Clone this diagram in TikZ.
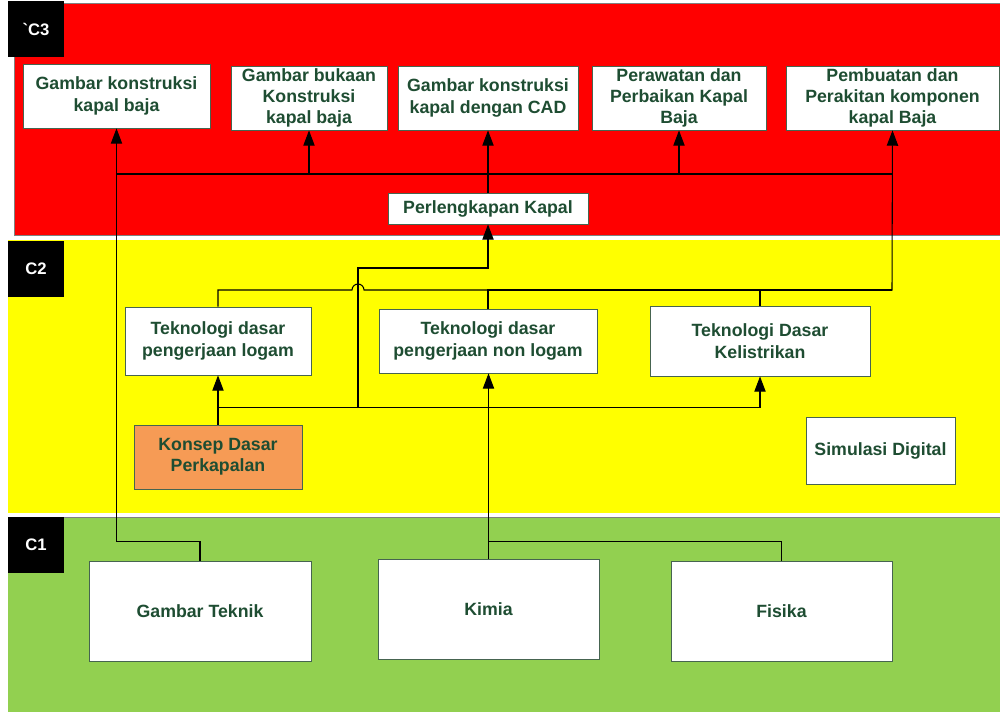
\documentclass[tikz,border=0pt]{standalone}
\usepackage{fontspec}
\setmainfont{Liberation Sans}
\usetikzlibrary{arrows.meta}

\definecolor{bandred}{RGB}{255,0,0}
\definecolor{bandyellow}{RGB}{255,255,0}
\definecolor{bandgreen}{RGB}{146,208,80}
\definecolor{konsepfill}{RGB}{246,155,85}
\definecolor{txtgreen}{RGB}{30,77,50}
\definecolor{boxline}{RGB}{70,100,80}

\tikzset{
	wh/.style 2 args={minimum width=#1*0.75pt, minimum height=#2*0.75pt},
	box/.style={draw=boxline, line width=0.6pt, fill=white, text=txtgreen, align=center, inner sep=0pt,
		font=\fontsize{13.3}{16}\selectfont\bfseries},
	lvl/.style={fill=black, text=white, inner sep=0pt, minimum size=42pt,
		font=\fontsize{12.5}{15}\selectfont\bfseries},
	wire/.style={line width=0.8pt},
	arr/.style={wire, -{Triangle[length=11.5pt, width=8.5pt]}},
}

\begin{document}
\begin{tikzpicture}[x=0.75pt, y=-0.75pt]
	\useasboundingbox (0,0) rectangle (1000,711);
	\fill[white] (0,0) rectangle (1000,711);

	\draw[fill=bandred, draw=gray] (14,3) rectangle (1004,235);
	\fill[bandyellow] (8,240) rectangle (1004,513);
	\fill[bandgreen] (8,517) rectangle (1004,715);
	\draw[gray] (8,517) -- (1004,517);

	\node[lvl] (lc3) at (36,29) {\textasciigrave C3};
	\node[lvl] (lc2) at (36,269) {C2};
	\node[lvl] (lc1) at (36,545) {C1};

	\node[box, wh={187}{64}] (c3a) at (116.5,96) {Gambar konstruksi\\kapal baja};
	\node[box, wh={156}{64}] (c3b) at (309,98) {Gambar bukaan\\Konstruksi\\kapal baja};
	\node[box, wh={180}{64}] (c3c) at (488,98) {Gambar konstruksi\\kapal dengan CAD};
	\node[box, wh={174}{64}] (c3d) at (679,98) {Perawatan dan\\Perbaikan Kapal\\Baja};
	\node[box, wh={213}{64}] (c3e) at (892.5,98) {Pembuatan dan\\Perakitan komponen\\kapal Baja};
	\node[box, wh={200}{31}] (perl) at (488,208.5) {Perlengkapan Kapal};

	\node[box, wh={186}{68}] (logam) at (218,341) {Teknologi dasar\\pengerjaan logam};
	\node[box, wh={218}{64}] (nonlogam) at (488,341) {Teknologi dasar\\pengerjaan non logam};
	\node[box, wh={220}{70}] (listrik) at (760,341) {Teknologi Dasar\\Kelistrikan};
	\node[box, wh={168}{64}, fill=konsepfill] (konsep) at (218,457) {Konsep Dasar\\Perkapalan};
	\node[box, wh={149}{67}] (simul) at (880.5,450.5) {Simulasi Digital};

	\node[box, wh={222}{100}] (gt) at (200,611) {Gambar Teknik};
	\node[box, wh={221}{100}] (kimia) at (488.5,609) {Kimia};
	\node[box, wh={221}{100}] (fisika) at (781.5,611) {Fisika};

	\coordinate (busA) at (488,174);
	\coordinate (busB) at (892,290);
	\coordinate (kup) at (358,408);

	\draw[arr] (gt.north) -- ++(0,-19) -| (c3a.south);
	\draw[arr] (kimia.north) -- (kimia.north |- nonlogam.south);
	\draw[wire] (fisika.north) -- ++(0,-19) -| (kimia.north);

	\draw[arr] (konsep.north) -- (logam.south);
	\draw[arr] (konsep.north) -- ++(0,-17) -| (listrik.south);
	\draw[arr] (kup) -- ++(0,-140) -| (perl.south);

	\draw[arr] (logam.north) |- (352,290) arc[start angle=180, end angle=0, radius=4.5pt] -- (busB) -- (c3e.south);
	\draw[wire] (nonlogam.north) |- (busB);
	\draw[wire] (listrik.north) |- (busB);

	\draw[arr] (perl.north) -- (c3c.south);
	\draw[wire] (c3a.south |- busA) -- (c3e.south |- busA);
	\draw[arr] (c3b.south |- busA) -- (c3b.south);
	\draw[arr] (c3d.south |- busA) -- (c3d.south);
\end{tikzpicture}
\end{document}
